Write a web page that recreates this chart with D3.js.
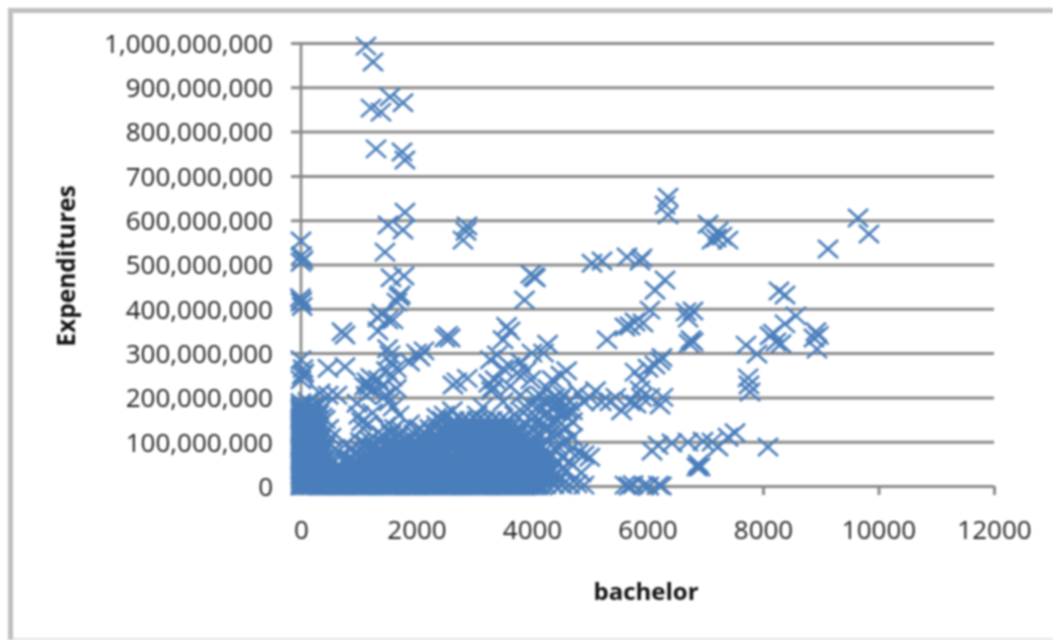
<!DOCTYPE html>
<html><head><meta charset="utf-8">
<script src="https://cdnjs.cloudflare.com/ajax/libs/d3/7.8.5/d3.min.js"></script>
<style>html,body{margin:0;padding:0;background:#fff}svg{display:block;filter:blur(0.8px)}</style>
</head><body><div id="chart"></div>
<script>
// x = bachelor, y = Expenditures in millions
const xTicks = [0,2000,4000,6000,8000,10000,12000];
const yTicks = [0,100,200,300,400,500,600,700,800,900,1000];
const upperPoints = [[1125,993],[1247,957],[1212,853],[1385,844],[1541,878],[1766,865],[1299,761],[1749,754],[1800,736],[1506,589],[1800,618],[1766,578],[1454,528],[1558,470],[1783,474],[1697,427],[1662,415],[1720,432],[1333,350],[1506,375],[1593,375],[1333,380],[1400,390],[0,553],[35,510],[0,505],[10,520],[0,415],[20,405],[-10,425],[10,418],[762,341],[710,348],[2805,555],[2874,587],[2857,575],[2494,334],[2580,334],[2540,340]];
const rightPoints = [[5039,503],[5212,508],[5645,517],[5905,515],[5870,508],[6355,652],[6303,634],[6355,612],[7048,591],[7117,555],[7221,575],[7290,564],[7394,555],[7190,560],[9645,605],[9835,569],[9126,535],[8277,440],[8381,431],[8571,384],[8381,366],[8121,339],[8225,325],[8312,321],[8180,345],[8918,348],[8883,334],[8935,309],[8960,340],[7706,318],[7896,298],[6667,393],[6788,395],[6701,379],[6753,330],[6720,322],[6790,325],[6303,465],[6130,442],[6043,397],[5922,368],[5697,361],[5610,359],[5784,370],[5299,330],[6217,282],[6130,273],[6009,266],[5784,257],[5905,239],[5870,217],[6043,200],[6217,183],[6268,200],[6250,290],[7740,244],[7757,228],[7775,212],[8086,88],[7515,120],[7394,110],[7221,88],[7117,99],[6961,101],[6857,43],[6909,43],[6880,50],[6701,99],[6424,97],[6182,92],[6078,79],[5610,2],[5680,0],[5750,3],[5940,1],[6020,0],[6190,2],[6240,0]];
const middlePoints = [[2630,228],[2700,235],[2880,243],[3250,232],[3320,222],[3360,240],[3300,215],[3400,296],[3280,285],[3500,330],[3560,360],[3620,350],[3620,270],[3740,255],[3800,280],[3900,260],[3980,240],[4000,300],[4200,300],[4270,320],[3500,265],[3620,225],[3500,190],[3800,205],[4050,200],[4120,180],[4270,220],[4350,240],[4500,250],[4600,260],[4650,190],[4400,200],[4200,160],[4000,150],[3850,165],[4100,120],[4300,130],[4500,170],[4600,130],[4700,170],[4800,210],[4900,190],[5000,200],[5100,215],[5200,190],[5350,190],[5450,200],[5550,170],[5700,190],[5800,185],[5900,200],[4700,110],[4650,80],[4800,75],[4900,70],[5000,65],[4850,30],[4900,2],[4780,5],[4560,100],[4420,150],[4250,185],[4470,120],[3920,175],[4540,205],[3150,178],[3050,160],[2480,160],[2350,155],[2620,170],[2800,150],[3700,160],[3950,120],[3870,420],[3980,478],[4060,470],[4030,472],[4180,140],[4280,165],[4370,110],[4450,185],[4120,150],[4230,105],[4340,70],[4430,50],[4520,65],[4600,35],[4480,20],[4150,90],[4260,60],[4390,85],[4500,140],[4080,175],[4330,195],[4200,40],[4320,30],[4440,90],[4550,40],[4650,55],[4180,75],[3900,140],[4020,100],[4380,175],[4480,195],[4560,160],[4620,170],[4700,145],[4350,145],[4150,205],[4220,130]];
const leftPoints = [[0,285],[35,265],[20,250],[0,240],[50,255],[467,266],[762,269],[1143,235],[1180,225],[1210,245],[1100,225],[1230,215],[1541,296],[1500,310],[1560,280],[1480,260],[1576,246],[1650,265],[1593,178],[1650,220],[1470,205],[970,187],[623,205],[470,205],[330,210],[1080,130],[1050,145],[1160,140],[1460,135],[1620,130],[1750,125],[1880,140],[2060,291],[2000,300],[2130,305],[1880,280],[1030,100],[1120,95],[1400,115],[1340,100],[1830,105],[1960,118],[2040,130],[300,185],[120,190],[210,180],[420,150],[480,130],[520,110],[600,85],[700,70],[780,95],[880,85],[950,70],[1010,85],[1180,105],[1260,88],[1450,95],[1560,118],[1700,112],[2130,122],[2230,130],[2350,138],[2450,148],[640,45],[760,55],[840,62],[540,60],[1340,240],[1420,225],[1520,190],[1130,205],[1000,160],[1240,165],[1700,160]];
const leftEdgeYs = [0,6,13,20,28,35,43,50,58,65,73,80,88,95,103,110,118,125,133,140,150,158,166,172,180,188];
const bottomEdgeXs = [0,60,120,190,250,320,380,450,510,590,650,720,780,860,920,990,1050,1120,1180,1250,1320,1390,1450,1520,1580,1650,1710,1790,1850,1920,1980,2050,2120,2190,2250,2320,2380,2450,2510,2580,2640,2710,2780,2850,2910,2980,3040,3110,3170,3240,3300,3380,3440,3510,3570,3640,3700,3770,3830,3900,3960,4030,4090,4170];
const rowPoints = [
 [3,[20,160,290,410,560,690,830,950,1090,1210,1360,1480,1620,1750,1880,2010,2150,2270,2410,2540,2680,2800,2940,3060,3210,3330,3470,3590,3730,3850,3990,4110,4240,4380,4520,4650]],
 [10,[90,230,350,490,620,760,890,1020,1150,1290,1420,1550,1690,1810,1950,2080,2210,2340,2480,2610,2740,2870,3000,3140,3270,3400,3530,3660,3790,3920,4050,4180,4310,4450]],
 [17,[70,210,350,470,620,740,880,1010,1150,1270,1410,1550,1680,1810,1930,2080,2210,2340,2470,2610,2730,2870,3000,3140,3270,3400,3530,3670,3790,3930,4060,4190,4310]],
 [25,[0,130,270,400,530,660,800,930,1060,1190,1320,1450,1590,1720,1850,1980,2110,2250,2380,2510,2640,2770,2900,3040,3170,3300,3430,3560,3700,3830,3960,4090,4220,4400]],
 [32,[10,150,280,420,550,680,820,960,1080,1220,1350,1490,1610,1760,1870,2020,2140,2280,2400,2550,2670,2810,2930,3070,3200,3340,3460,3600,3720,3860,3980,4120,4250]],
 [40,[60,190,320,450,590,720,850,980,1110,1250,1380,1510,1640,1770,1900,2040,2170,2300,2430,2560,2700,2830,2960,3090,3220,3350,3490,3620,3750,3880,4010,4140,4270]],
 [47,[80,200,340,900,1030,1160,1290,1420,1540,1690,1820,1940,2090,2200,2350,2480,2620,2720,2880,3010,3130,3280,3390,3540,3660,3800,3920,4070,4200]],
 [55,[0,130,260,390,960,1090,1220,1350,1490,1620,1750,1880,2010,2140,2270,2410,2540,2670,2800,2930,3060,3190,3320,3460,3590,3720,3850,3980,4110,4240]],
 [62,[20,140,270,400,1100,1230,1370,1500,1630,1770,1890,2030,2160,2290,2420,2560,2690,2950,3080,3190,3350,3480,3610,3740,3870,4000,4130]],
 [70,[70,200,330,1030,1160,1300,1430,1560,1690,1820,1950,2080,2220,2350,2480,2610,2860,2990,3120,3250,3380,3520,3650,3780,3910,4040]],
 [78,[70,220,330,1180,1310,1440,1570,1700,1830,1950,2100,2230,2360,2500,2760,2890,3020,3150,3290,3420,3550,3680,3810,3940,4070]],
 [85,[0,140,270,400,1240,1370,1500,1630,1760,1890,2020,2150,2290,2420,2700,2830,2960,3090,3220,3350,3480,3620,3750,3880,4010]],
 [92,[10,150,290,420,1520,1640,1780,1900,2040,2170,2300,2430,2640,2830,2960,3090,3220,3360,3490,3620,3750,3880,4010]],
 [100,[60,190,320,1590,1720,1850,1990,2120,2250,2380,2510,2640,2770,2900,3030,3160,3290,3430,3560,3690,3820,3950]],
 [108,[80,210,350,2120,2250,2380,2520,2650,2780,2910,3040,3170,3300,3430,3560,3690,3820]],
 [116,[0,130,270,2180,2310,2440,2570,2700,2840,2970,3100,3230,3360,3490,3630,3760,3890]],
 [124,[20,140,280,2400,2530,2660,2790,2920,3050,3180,3310,3440,3570,3700]],
 [132,[70,190,310,2460,2590,2730,2860,2990,3120,3250,3380,3510,3640,3770]],
 [140,[70,200,320,2590,2720,2850,2980,3110,3240,3370,3500]],
 [148,[0,120,240,2650,2780,2920,3050,3180,3310,3440,3570]],
 [155,[10,130,260,370]],
 [162,[70,190,310]],
 [168,[60,190,300]],
 [175,[0,130,250]]
];
const W=1053,H=640,markerColor="#4a7ebb",gridColor="#8b8b8b",textColor="#222222";
const font='"Open Sans","Liberation Sans",sans-serif';
const x=d3.scaleLinear().domain([0,12000]).range([301,994]);
const y=d3.scaleLinear().domain([0,1000]).range([486,43]);
const points=[...upperPoints,...rightPoints,...middlePoints,...leftPoints,
  ...leftEdgeYs.map(v=>[0,v]),...bottomEdgeXs.map(b=>[b,0]),
  ...rowPoints.flatMap(([v,xs])=>xs.map(b=>[b,v]))];
const svg=d3.select("#chart").append("svg").attr("width",W).attr("height",H);
svg.append("rect").attr("width",W).attr("height",H).attr("fill","#fff");
svg.append("path").attr("d","M10.5,640V10.5H1053").attr("fill","none").attr("stroke","#bfbfbf").attr("stroke-width",5);
svg.append("path").attr("d","M10,639H1053").attr("fill","none").attr("stroke","#c8c8c8").attr("stroke-width",1.2);
const axY=d3.axisLeft(y).tickValues(yTicks).tickSize(0).tickPadding(18)
  .tickFormat(d=>d3.format(",")(d*1e6));
const gy=svg.append("g").attr("transform","translate(291,0)").call(axY);
gy.select(".domain").remove();
gy.selectAll("line").attr("x1",0).attr("x2",703).attr("stroke",gridColor).attr("stroke-width",3);
const axX=d3.axisBottom(x).tickValues(xTicks).tickSize(9).tickPadding(26).tickFormat(d3.format("d"));
const gx=svg.append("g").attr("transform","translate(0,486)").call(axX);
gx.select(".domain").remove();
gx.selectAll("line").attr("stroke",gridColor).attr("stroke-width",3);
svg.append("line").attr("x1",x(0)).attr("x2",x(0)).attr("y1",y(1000)).attr("y2",495).attr("stroke","#858585").attr("stroke-width",2.6);
svg.selectAll(".tick text").attr("font-family",font).attr("font-size",26).attr("fill",textColor);
gy.selectAll("text").attr("dy","0.36em");
const crossX={draw(ctx){ctx.moveTo(-10,-9);ctx.lineTo(10,9);ctx.moveTo(10,-9);ctx.lineTo(-10,9);}};
svg.append("g").selectAll("path").data(points).join("path")
  .attr("d",d3.symbol().type(crossX))
  .attr("transform",d=>`translate(${x(d[0])},${y(d[1])})`)
  .attr("fill","none").attr("stroke",markerColor).attr("stroke-width",2.6);
svg.append("text").attr("x",646).attr("y",600).attr("text-anchor","middle")
  .attr("font-family",font).attr("font-size",24).attr("font-weight",700).attr("fill","#111").text("bachelor");
svg.append("text").attr("transform","translate(75,266) rotate(-90)").attr("text-anchor","middle")
  .attr("font-family",font).attr("font-size",24.5).attr("font-weight",700).attr("fill","#111").text("Expenditures");
</script></body></html>
